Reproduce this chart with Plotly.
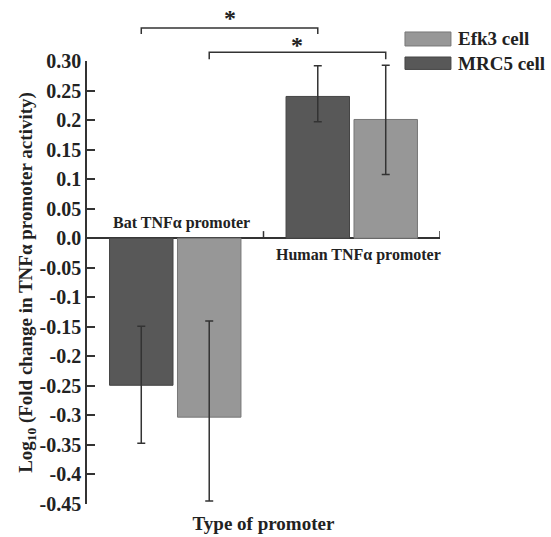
import plotly.graph_objects as go

categories = ["Bat TNFα promoter", "Human TNFα promoter"]
series_names = ["MRC5 cell", "Efk3 cell"]
mrc5_values = [-0.249, 0.240]
mrc5_err_plus = [0.100, 0.052]
mrc5_err_minus = [0.098, 0.043]
efk3_values = [-0.303, 0.201]
efk3_err_plus = [0.163, 0.092]
efk3_err_minus = [0.142, 0.093]
ytick_vals = [0.30, 0.25, 0.2, 0.15, 0.1, 0.05, 0.0, -0.05, -0.1, -0.15, -0.2, -0.25, -0.3, -0.35, -0.4, -0.45]
ytick_text = ["0.30", "0.25", "0.2", "0.15", "0.1", "0.05", "0.0", "-0.05", "-0.1", "-0.15", "-0.2", "-0.25", "-0.3", "-0.35", "-0.4", "-0.45"]
sig_pairs = [("MRC5 cell", "*"), ("Efk3 cell", "*")]

DARK = "#585858"
LIGHT = "#979797"
FONT = "Liberation Serif"
AX = "#333333"
BARGAP = 0.23

fig = go.Figure()
fig.add_trace(go.Bar(
    x=categories, y=mrc5_values, name=series_names[0],
    marker=dict(color=DARK, line=dict(color="#444444", width=1)),
    error_y=dict(type="data", array=mrc5_err_plus, arrayminus=mrc5_err_minus,
                 color=AX, thickness=1.5, width=4),
))
fig.add_trace(go.Bar(
    x=categories, y=efk3_values, name=series_names[1],
    marker=dict(color=LIGHT, line=dict(color="#777777", width=1)),
    error_y=dict(type="data", array=efk3_err_plus, arrayminus=efk3_err_minus,
                 color=AX, thickness=1.5, width=4),
))

shapes = []
annotations = []
# category boundary ticks on the zero line
for b in [0.5, 1.5]:
    shapes.append(dict(type="line", xref="x", yref="y", x0=b, x1=b, y0=0, y1=0.012,
                       line=dict(color=AX, width=1.5)))
# category labels
annotations.append(dict(x=categories[0], y=0, xref="x", yref="y", text=categories[0],
                        showarrow=False, yanchor="bottom", yshift=4, xshift=6,
                        font=dict(family=FONT, size=16, color="#222", weight="bold")))
annotations.append(dict(x=categories[1], y=0, xref="x", yref="y", text=categories[1],
                        showarrow=False, yanchor="top", yshift=-6, xshift=7,
                        font=dict(family=FONT, size=16, color="#222", weight="bold")))

# significance brackets
off = (1 - BARGAP) / 4
bracket_y = [(1.0745, 1.061, 1.096), (1.0196, 1.0038, 1.036)]
for i, (name, star) in enumerate(sig_pairs):
    o = -off if name == series_names[0] else off
    x0, x1 = 0 + o, 1 + o
    yt, yb, ys = bracket_y[i]
    shapes.append(dict(type="path", xref="x", yref="paper",
                       path=f"M {x0},{yb} L {x0},{yt} L {x1},{yt} L {x1},{yb}",
                       line=dict(color=AX, width=1.5)))
    annotations.append(dict(x=(x0 + x1) / 2, y=ys, xref="x", yref="paper", text=star,
                            showarrow=False, yanchor="middle",
                            font=dict(family=FONT, size=24, color="#222", weight="bold")))

# legend (custom swatches)
leg = [(series_names[1], LIGHT, "#777777", 1.0655, 1.0339, 1.0497),
       (series_names[0], DARK, "#444444", 1.009, 0.981, 0.995)]
for name, col, lc, y1, y0, yc in leg:
    shapes.append(dict(type="rect", xref="paper", yref="paper", x0=0.9008, x1=1.031,
                       y0=y0, y1=y1, fillcolor=col, line=dict(color=lc, width=1)))
    annotations.append(dict(x=1.045, y=yc, xref="paper", yref="paper", text=name,
                            showarrow=False, xanchor="left", yanchor="middle",
                            font=dict(family=FONT, size=19, color="#222", weight="bold")))

fig.update_layout(
    width=551, height=537,
    margin=dict(l=87, r=111, t=61, b=33),
    paper_bgcolor="white", plot_bgcolor="white",
    barmode="group", bargap=BARGAP, bargroupgap=0.066,
    showlegend=False,
    shapes=shapes, annotations=annotations,
    font=dict(family=FONT, color="#222"),
    xaxis=dict(range=[-0.5, 1.5], showline=False, showticklabels=False, ticks="",
               showgrid=False, zeroline=False, automargin=False,
               title=dict(text="Type of promoter", standoff=12,
                          font=dict(family=FONT, size=19, color="#222", weight="bold"))),
    yaxis=dict(range=[-0.45, 0.30], tickvals=ytick_vals, ticktext=ytick_text,
               ticks="inside", ticklen=8, tickwidth=1.5, tickcolor=AX,
               showline=True, linecolor=AX, linewidth=1.5,
               showgrid=False, zeroline=True, zerolinecolor=AX, zerolinewidth=1.5,
               automargin=False,
               tickfont=dict(family=FONT, size=20, color="#222", weight="bold"),
               title=dict(text="Log<sub>10</sub> (Fold change in TNFα promoter activity)",
                          standoff=2,
                          font=dict(family=FONT, size=19, color="#222", weight="bold"))),
)

fig.write_html("out.html", config={"displayModeBar": False},
               post_script="document.body.style.margin='0';document.body.style.overflow='hidden';")
